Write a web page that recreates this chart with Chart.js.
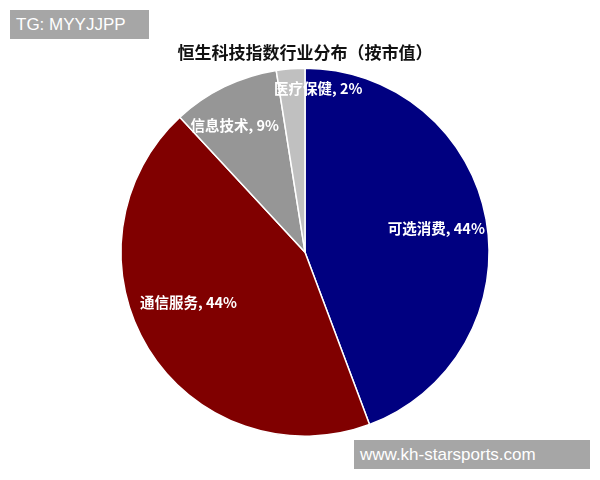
<!DOCTYPE html>
<html lang="zh">
<head>
    <meta charset="UTF-8">
    <title>恒生科技指数行业分布</title>
    <script src="https://cdn.jsdelivr.net/npm/chart.js"></script>
    <style>
        body { margin: 0; background: #fff; }
        .wrap { position: relative; width: 600px; height: 480px; }
        .tag { position: absolute; background: #a6a6a6; color: #fff; font-family: "Liberation Sans", Arial, sans-serif; font-size: 17px; line-height: 29px; padding: 0 6px; }
        #tg { left: 10px; top: 10px; width: 127px; }
        #site { left: 354px; top: 440px; width: 224px; }
    </style>
</head>
<body>
<div class="wrap">
    <canvas id="pie" width="600" height="480"></canvas>
    <div class="tag" id="tg">TG: MYYJJPP</div>
    <div class="tag" id="site">www.kh-starsports.com</div>
</div>
<script>
    const sectors = ['可选消费', '通信服务', '信息技术', '医疗保健'];
    // slice sizes; the printed labels are rounded
    const shares = [44.3, 43.8, 9.4, 2.5];
    const shareLabels = ['44%', '44%', '9%', '2%'];
    const sliceColors = ['#000080', '#800000', '#969696', '#c0c0c0'];

    // label placement: fraction of radius along the slice middle, then a small nudge
    const labelRadius = [0.725, 0.68, 0.786, 0.89];
    const labelNudge = [[0, 0], [-10, -15], [-7, 3], [26, 0]];

    const sliceLabels = {
        id: 'sliceLabels',
        afterDatasetsDraw(chart) {
            const ctx = chart.ctx;
            const arcs = chart.getDatasetMeta(0).data;
            ctx.save();
            ctx.fillStyle = '#fff';
            ctx.font = 'bold 14.5px "Noto Sans CJK SC", sans-serif';
            ctx.textAlign = 'center';
            ctx.textBaseline = 'middle';
            arcs.forEach((arc, i) => {
                const mid = (arc.startAngle + arc.endAngle) / 2;
                const r = arc.outerRadius * labelRadius[i];
                const x = arc.x + Math.cos(mid) * r + labelNudge[i][0];
                const y = arc.y + Math.sin(mid) * r + labelNudge[i][1];
                ctx.fillText(sectors[i] + ', ' + shareLabels[i], x, y);
            });
            ctx.restore();
        }
    };

    new Chart(document.getElementById('pie'), {
        type: 'pie',
        data: {
            labels: sectors,
            datasets: [{
                data: shares,
                backgroundColor: sliceColors,
                borderColor: '#fff',
                borderWidth: 1.5
            }]
        },
        options: {
            responsive: false,
            animation: false,
            layout: { padding: { left: 120, right: 110, top: 0, bottom: 43 } },
            plugins: {
                legend: { display: false },
                tooltip: { enabled: false },
                title: {
                    display: true,
                    text: '恒生科技指数行业分布（按市值）',
                    color: '#111',
                    font: { family: '"Noto Sans CJK SC", sans-serif', size: 17, weight: 'bold' },
                    padding: { top: 42, bottom: 5 }
                }
            }
        },
        plugins: [sliceLabels]
    });
</script>
</body>
</html>
